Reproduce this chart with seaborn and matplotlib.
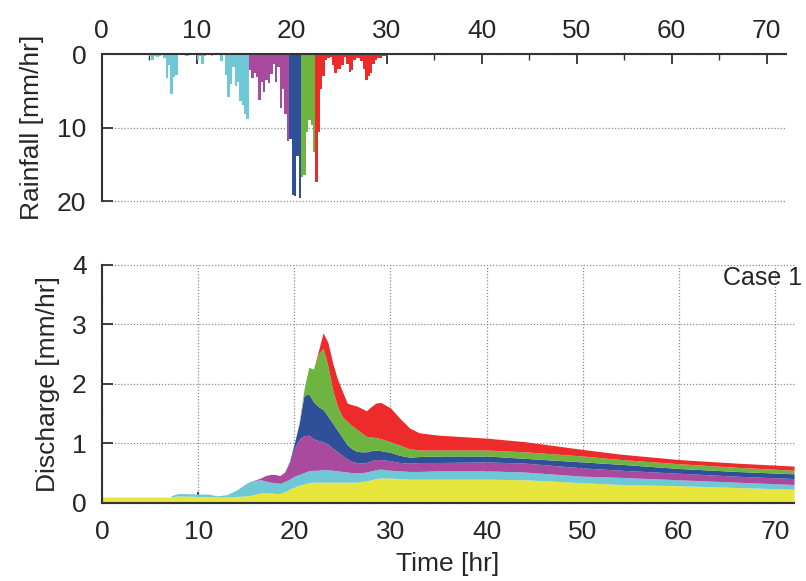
import numpy as np
import matplotlib
matplotlib.use("Agg")
import matplotlib.pyplot as plt
import seaborn as sns

# rainfall, 15-min blocks, one list per rainfall period
rain_dt = 0.25
rain_cyan_start = 5.0
rain_cyan = [0.3, 0.8, 0.2, 0.4, 0.2, 0.1, 0.6, 3.3, 1.5, 5.4,
             3.1, 2.9, 0.0, 0.0, 0.0, 0.2, 0.2, 0.0, 0.0, 0.0,
             0.8, 0.3, 1.3, 0.2, 0.1, 0.1, 0.3, 0.1, 0.0, 0.0,
             1.0, 0.0, 2.9, 5.9, 4.1, 1.7, 4.4, 3.8, 6.4, 6.9,
             8.2, 8.8]
rain_magenta_start = 15.5
rain_magenta = [2.2, 3.3, 2.6, 3.1, 6.2, 3.8, 5.1, 3.5, 4.0, 2.7,
                1.3, 3.8, 1.7, 7.4, 4.8, 8.1, 11.8]
rain_blue_start = 19.75
rain_blue = [11.5, 19.2, 19.3, 13.9, 19.6]
rain_green_start = 21.0
rain_green = [16.7, 16.4, 10.6, 9.0, 9.7, 13.3]
rain_red_start = 22.5
rain_red = [17.4, 10.6, 4.7, 3.0, 0.8, 0.6, 0.4, 1.5, 2.6, 2.0,
            2.0, 1.5, 0.4, 1.3, 2.4, 2.2, 0.8, 0.6, 0.6, 1.0,
            2.0, 3.5, 3.0, 2.6, 1.3, 0.8, 0.6, 0.6, 0.3, 0.3]

# discharge: cumulative top of each stacked component [mm/hr]
t_q = [0, 7, 7.5, 8, 10, 11, 12, 13, 14, 15,
       15.5, 16, 16.5, 17, 17.5, 18, 18.5, 19, 19.5, 20,
       20.5, 21, 21.5, 22, 22.5, 23, 23.5, 24, 24.5, 25,
       25.5, 26, 26.5, 27, 27.5, 28, 28.5, 29, 30, 31,
       32, 33, 35, 40, 44, 50, 54, 60, 66, 72]
q_base = [0.10, 0.10, 0.11, 0.12, 0.11, 0.11, 0.10, 0.10, 0.11, 0.12,
          0.13, 0.15, 0.17, 0.17, 0.17, 0.16, 0.16, 0.19, 0.23, 0.27,
          0.30, 0.32, 0.34, 0.35, 0.35, 0.35, 0.35, 0.35, 0.35, 0.35,
          0.35, 0.35, 0.35, 0.36, 0.37, 0.39, 0.41, 0.42, 0.42, 0.41,
          0.40, 0.40, 0.40, 0.40, 0.39, 0.34, 0.31, 0.29, 0.26, 0.23]
q_cyan = [0.10, 0.10, 0.14, 0.16, 0.15, 0.15, 0.12, 0.14, 0.22, 0.33,
          0.37, 0.38, 0.39, 0.37, 0.35, 0.34, 0.33, 0.36, 0.40, 0.45,
          0.48, 0.51, 0.54, 0.55, 0.55, 0.56, 0.56, 0.55, 0.54, 0.53,
          0.52, 0.51, 0.51, 0.51, 0.52, 0.54, 0.56, 0.57, 0.55, 0.54,
          0.53, 0.53, 0.54, 0.54, 0.52, 0.45, 0.43, 0.39, 0.35, 0.31]
q_magenta = [0.10, 0.10, 0.14, 0.16, 0.15, 0.15, 0.12, 0.14, 0.22, 0.33,
             0.37, 0.39, 0.42, 0.46, 0.48, 0.48, 0.46, 0.52, 0.68, 0.92,
             1.07, 1.13, 1.14, 1.08, 1.05, 1.03, 0.99, 0.92, 0.86, 0.80,
             0.74, 0.70, 0.68, 0.67, 0.68, 0.71, 0.73, 0.73, 0.71, 0.68,
             0.67, 0.68, 0.68, 0.69, 0.67, 0.59, 0.55, 0.50, 0.45, 0.41]
q_blue = [0.10, 0.10, 0.14, 0.16, 0.15, 0.15, 0.12, 0.14, 0.22, 0.33,
          0.37, 0.39, 0.42, 0.46, 0.48, 0.48, 0.46, 0.52, 0.70, 1.00,
          1.33, 1.80, 1.84, 1.70, 1.62, 1.57, 1.46, 1.34, 1.22, 1.10,
          0.98, 0.91, 0.87, 0.86, 0.86, 0.88, 0.89, 0.88, 0.85, 0.80,
          0.77, 0.78, 0.79, 0.79, 0.75, 0.69, 0.65, 0.58, 0.53, 0.49]
q_green = [0.10, 0.10, 0.14, 0.16, 0.15, 0.15, 0.12, 0.14, 0.22, 0.33,
           0.37, 0.39, 0.42, 0.46, 0.48, 0.48, 0.46, 0.52, 0.70, 1.00,
           1.35, 1.90, 2.28, 2.25, 2.50, 2.60, 2.30, 1.90, 1.62, 1.45,
           1.37, 1.30, 1.24, 1.18, 1.12, 1.11, 1.10, 1.08, 1.03, 0.97,
           0.91, 0.89, 0.89, 0.89, 0.86, 0.79, 0.73, 0.66, 0.60, 0.55]
q_red = [0.10, 0.10, 0.14, 0.16, 0.15, 0.15, 0.12, 0.14, 0.22, 0.33,
         0.37, 0.39, 0.42, 0.46, 0.48, 0.48, 0.46, 0.52, 0.70, 1.00,
         1.35, 1.90, 2.28, 2.25, 2.55, 2.86, 2.70, 2.35, 2.08, 1.88,
         1.68, 1.65, 1.63, 1.59, 1.55, 1.62, 1.68, 1.69, 1.60, 1.42,
         1.26, 1.18, 1.14, 1.09, 1.03, 0.90, 0.82, 0.73, 0.67, 0.62]

c_yellow = "#e6e63c"
c_cyan = "#6ec8d6"
c_magenta = "#a94a9e"
c_blue = "#2f4f99"
c_green = "#6db441"
c_red = "#ee2b2b"

sns.set_theme(style="white")
plt.rcParams['font.family'] = ['Liberation Sans', 'DejaVu Sans']
fs = 19
spine_c = "#333333"
grid_kw = dict(color="#8a8a8a", linestyle=(0, (1, 1.5)), linewidth=0.9)

fig = plt.figure(figsize=(8.06, 5.81), dpi=100)
ax_r = fig.add_axes([0.126, 0.654, 0.8486, 0.253])
ax_q = fig.add_axes([0.1266, 0.1343, 0.8586, 0.4096])

# --- rainfall (inverted) ---
for start, vals, col in [(rain_cyan_start, rain_cyan, c_cyan),
                         (rain_magenta_start, rain_magenta, c_magenta),
                         (rain_blue_start, rain_blue, c_blue),
                         (rain_green_start, rain_green, c_green),
                         (rain_red_start, rain_red, c_red)]:
    tt = start + rain_dt * np.arange(len(vals))
    ax_r.bar(tt, vals, width=rain_dt, align='edge', color=col, linewidth=0)

ax_r.set_xlim(0, 72)
ax_r.set_ylim(20, 0)
ax_r.set_yticks([0, 10, 20])
ax_r.set_xticks(np.arange(0, 71, 10))
ax_r.set_xticks(np.arange(5, 70, 10), minor=True)
ax_r.xaxis.tick_top()
ax_r.yaxis.grid(True, **grid_kw)
ax_r.xaxis.grid(False)
ax_r.set_axisbelow(True)
for s in ["right", "bottom"]:
    ax_r.spines[s].set_visible(False)
for s in ["top", "left"]:
    ax_r.spines[s].set_color(spine_c)
    ax_r.spines[s].set_linewidth(1.5)
ax_r.tick_params(axis='x', which='major', direction='in', length=7, width=1.3,
                 color=spine_c, top=True, bottom=False, labeltop=True,
                 labelbottom=False, labelsize=fs, pad=8)
ax_r.tick_params(axis='x', which='minor', direction='in', length=4, width=1.0,
                 color=spine_c, top=True, bottom=False)
ax_r.tick_params(axis='y', direction='in', length=8, width=1.3, color=spine_c,
                 left=True, labelsize=fs, pad=11)
ax_r.set_ylabel("Rainfall [mm/hr]", fontsize=fs, labelpad=9)

# --- discharge (stacked components) ---
layers = [(np.zeros(len(t_q)), q_base, c_yellow),
          (q_base, q_cyan, c_cyan),
          (q_cyan, q_magenta, c_magenta),
          (q_magenta, q_blue, c_blue),
          (q_blue, q_green, c_green),
          (q_green, q_red, c_red)]
for lo, hi, col in layers:
    ax_q.fill_between(t_q, lo, hi, color=col, linewidth=0)

ax_q.set_xlim(0, 72)
ax_q.set_ylim(0, 4)
ax_q.set_xticks(np.arange(0, 71, 10))
ax_q.set_yticks([0, 1, 2, 3, 4])
ax_q.grid(True, **grid_kw)
ax_q.set_axisbelow(True)
for s in ["right", "top"]:
    ax_q.spines[s].set_visible(False)
for s in ["bottom", "left"]:
    ax_q.spines[s].set_color(spine_c)
    ax_q.spines[s].set_linewidth(1.5)
ax_q.tick_params(axis='both', direction='in', length=8, width=1.3,
                 color=spine_c, left=True, bottom=True, labelsize=fs)
ax_q.tick_params(axis='x', pad=12)
ax_q.tick_params(axis='y', pad=11)
ax_q.set_ylabel("Discharge [mm/hr]", fontsize=fs, labelpad=9)
ax_q.set_xlabel("Time [hr]", fontsize=fs, labelpad=6)
ax_q.text(64.6, 3.78, "Case 1", fontsize=18, ha='left', va='center',
          clip_on=False)

# keep the edge grid lines fully visible
for ax in (ax_r, ax_q):
    for gl in ax.get_ygridlines() + ax.get_xgridlines():
        gl.set_clip_on(False)

fig.savefig("out.png", dpi=100)
